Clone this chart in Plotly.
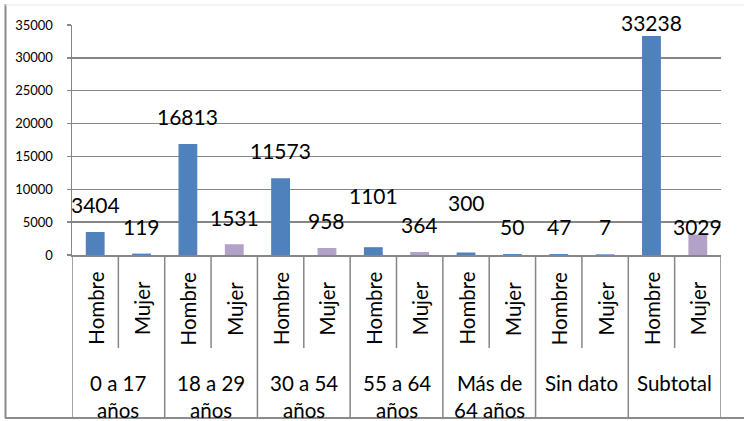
import plotly.graph_objects as go

# ---- data ----
groups = ["0 a 17<br>años", "18 a 29<br>años", "30 a 54<br>años", "55 a 64<br>años",
          "Más de<br>64 años", "Sin dato", "Subtotal"]
sexes = ["Hombre", "Mujer"]
values = [3404, 119, 16813, 1531, 11573, 958, 1101, 364, 300, 50, 47, 7, 33238, 3029]
y_ticks = [0, 5000, 10000, 15000, 20000, 25000, 30000, 35000]

# ---- styles ----
BLUE = "#4F81BD"
PURPLE = "#B3A2C7"
bar_colors = [BLUE, BLUE, BLUE, PURPLE, BLUE, PURPLE, BLUE, PURPLE,
              BLUE, BLUE, BLUE, BLUE, BLUE, PURPLE]
label_shift = [28, 28, 28, 27, 28, 28, 52, 28, 51, 28, 28, 28, 14, 9]
FONT = "Lato"
W, H = 744, 421
L, R, T, B = 72, 721, 25, 255
GRID = "#868686"


def py(p):
    return (B - p) / (B - T)


def px(q):
    return (q - L) / (R - L)


n = len(values)
xs = list(range(n))

fig = go.Figure()
fig.add_trace(go.Bar(
    x=xs, y=values, width=0.38,
    marker=dict(color=bar_colors, line=dict(color=bar_colors, width=1.2)),
    hoverinfo="skip", showlegend=False,
))

ann = []
for i, v in enumerate(values):
    ann.append(dict(x=i, y=v, xref="x", yref="y", text=str(v), showarrow=False,
                    yanchor="middle", yshift=label_shift[i],
                    font=dict(family=FONT, size=21, color="black")))
    ann.append(dict(x=i, y=py(308.5), xref="x", yref="paper", text=sexes[i % 2],
                    showarrow=False, textangle=-90, xanchor="center", yanchor="middle",
                    font=dict(family=FONT, size=20.5, color="black")))
for g, name in enumerate(groups):
    ann.append(dict(x=2 * g + 0.5, y=py(369), xref="x", yref="paper", text=name,
                    showarrow=False, xanchor="center", yanchor="top",
                    font=dict(family=FONT, size=20.5, color="black")))

shapes = []
for k in range(n + 1):
    bottom = 418 if k % 2 == 0 else 348
    shapes.append(dict(type="line", xref="x", yref="paper", x0=k - 0.5, x1=k - 0.5,
                       y0=0, y1=py(bottom), line=dict(color=GRID, width=1.5)))
# chart border
shapes.append(dict(type="line", xref="paper", yref="paper", x0=px(5.5), x1=px(5.5),
                   y0=py(4), y1=py(418), line=dict(color="#8C8C8C", width=2)))
shapes.append(dict(type="line", xref="paper", yref="paper", x0=px(5), x1=px(744),
                   y0=py(418), y1=py(418), line=dict(color="#8C8C8C", width=2)))
shapes.append(dict(type="line", xref="paper", yref="paper", x0=px(5), x1=px(744),
                   y0=py(5), y1=py(5), line=dict(color="#EBEBEB", width=1)))

fig.update_layout(
    width=W, height=H,
    margin=dict(l=L, r=W - R, t=T, b=H - B),
    paper_bgcolor="white", plot_bgcolor="white",
    bargap=0.6,
    xaxis=dict(range=[-0.5, n - 0.5], showticklabels=False, showgrid=False,
               zeroline=False, showline=True, linecolor=GRID, linewidth=1.5,
               ticks="", fixedrange=True),
    yaxis=dict(range=[0, 35000], tickvals=y_ticks, ticktext=[str(t) for t in y_ticks],
               showgrid=True, gridcolor=GRID, gridwidth=1.5, zeroline=False,
               showline=True, linecolor=GRID, linewidth=1.5,
               ticks="outside", ticklen=4, tickcolor=GRID, tickwidth=1.5,
               ticklabelstandoff=11, fixedrange=True,
               tickfont=dict(family=FONT, size=13, color="black")),
    annotations=ann,
    shapes=shapes,
)

fig.write_html("out.html",
               config={"displayModeBar": False, "staticPlot": True},
               post_script="document.body.style.margin='0';document.body.style.padding='0';")
